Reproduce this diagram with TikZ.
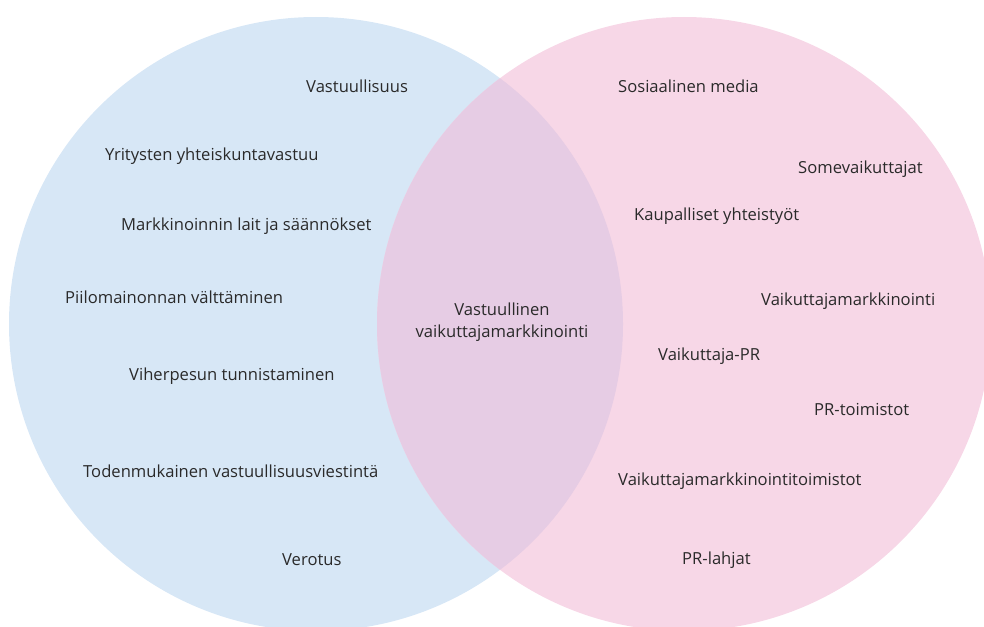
\documentclass[tikz,border=0pt]{standalone}
\usepackage{fontspec}
\setmainfont{Open Sans}
\usetikzlibrary{positioning}
\definecolor{venblue}{HTML}{D7E7F6}
\definecolor{venpink}{HTML}{F7D7E7}
\definecolor{venmix}{HTML}{E6CCE4}
\definecolor{ventext}{HTML}{2A2A2A}
\begin{document}
\begin{tikzpicture}[x=1pt,y=-1pt,
  lbl/.style={anchor=west,inner sep=0pt,font=\fontsize{16.6}{20}\selectfont,text=ventext},
  mid/.style={align=center,inner sep=0pt,font=\fontsize{16.6}{22}\selectfont,text=ventext}]
\useasboundingbox (0,0) rectangle (984,626);
\clip (0,0) rectangle (984,626);
% the two sets
\fill[venblue] (316,324) circle[radius=307];
\fill[venpink] (684,324) circle[radius=307];
\begin{scope}
\clip (316,324) circle[radius=307];
\fill[venmix] (684,324) circle[radius=307];
\end{scope}
% left set
\node[lbl] (l0) at (306,86) {Vastuullisuus};
\node[lbl] (l1) at (105,156) {Yritysten yhteiskuntavastuu};
\node[lbl] (l2) at (121,226) {Markkinoinnin lait ja säännökset};
\node[lbl] (l3) at (65,297) {Piilomainonnan välttäminen};
\node[lbl] (l4) at (129,376) {Viherpesun tunnistaminen};
\node[lbl] (l5) at (83,471) {Todenmukainen vastuullisuusviestintä};
\node[lbl] (l6) at (282,560) {Verotus};
% overlap
\node[mid] (m0) at (502,322) {Vastuullinen\\vaikuttajamarkkinointi};
% right set
\node[lbl] (r0) at (618,86) {Sosiaalinen media};
\node[lbl] (r1) at (798,169) {Somevaikuttajat};
\node[lbl] (r2) at (634,216) {Kaupalliset yhteistyöt};
\node[lbl] (r3) at (761,301) {Vaikuttajamarkkinointi};
\node[lbl] (r4) at (658,356) {Vaikuttaja-PR};
\node[lbl] (r5) at (814,409) {PR-toimistot};
\node[lbl] (r6) at (618,481) {Vaikuttajamarkkinointitoimistot};
\node[lbl] (r7) at (682,560) {PR-lahjat};
\end{tikzpicture}
\end{document}
